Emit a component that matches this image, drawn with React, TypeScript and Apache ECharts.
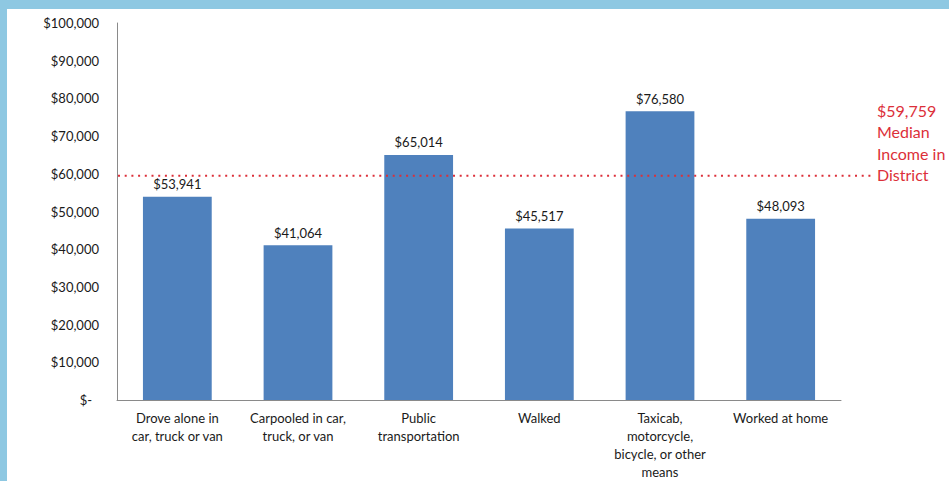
import React, { useEffect, useRef } from "react";
import * as echarts from "echarts";

const categories = [
  "Drove alone in\ncar, truck or van",
  "Carpooled in car,\ntruck, or van",
  "Public\ntransportation",
  "Walked",
  "Taxicab,\nmotorcycle,\nbicycle, or other\nmeans",
  "Worked at home",
];
const incomes = [53941, 41064, 65014, 45517, 76580, 48093];
const medianIncome = 59759;
const medianLabel = ["$59,759", "Median", "Income in", "District"];
const yTicks = { min: 0, max: 100000, interval: 10000 };

const FONT = "Lato, 'Open Sans', sans-serif";
const RED = "#DC2F39";
const fmt = (v: number) => "$" + v.toLocaleString("en-US");

export default function App() {
  const ref = useRef<HTMLDivElement>(null);
  useEffect(() => {
    if (!ref.current) return;
    const chart = echarts.init(ref.current, null, { renderer: "svg" });
    chart.setOption({
      animation: false,
      backgroundColor: "#ffffff",
      textStyle: { fontFamily: FONT },
      grid: { left: 110, top: 14, right: 108, bottom: 74 },
      xAxis: {
        type: "category",
        data: categories,
        axisLine: { lineStyle: { color: "#8a8a8a", width: 1 } },
        axisTick: { show: false },
        axisLabel: {
          color: "#1a1a1a",
          fontSize: 13,
          fontFamily: FONT,
          lineHeight: 18,
          margin: 9,
          interval: 0,
        },
      },
      yAxis: {
        type: "value",
        min: yTicks.min,
        max: yTicks.max,
        interval: yTicks.interval,
        axisLine: { show: true, lineStyle: { color: "#8a8a8a", width: 1 } },
        axisTick: { show: false },
        splitLine: { show: false },
        axisLabel: {
          color: "#1a1a1a",
          fontSize: 13,
          fontFamily: FONT,
          margin: 18,
          formatter: (v: number) => (v === 0 ? "{z|$-}" : fmt(v)),
          rich: { z: { fontSize: 13, fontFamily: FONT, color: "#1a1a1a", padding: [0, 7, 0, 0] } },
        },
      },
      series: [
        {
          type: "bar",
          data: incomes,
          barCategoryGap: "43%",
          itemStyle: { color: "#4F81BD" },
          label: {
            show: true,
            position: "top",
            distance: 6,
            color: "#1a1a1a",
            fontSize: 13,
            fontFamily: FONT,
            formatter: (p: any) => fmt(p.value),
          },
        },
      ],
    });
    const y = chart.convertToPixel({ yAxisIndex: 0 }, medianIncome) as number;
    chart.setOption({
      graphic: [
        {
          type: "line",
          silent: true,
          z: 10,
          shape: { x1: 111, y1: y + 1, x2: 864, y2: y + 1 },
          style: { stroke: RED, lineWidth: 2, lineDash: [2, 4.7] },
        },
        {
          type: "text",
          z: 10,
          x: 870,
          y: y + 11,
          style: {
            text: medianLabel.join("\n"),
            fill: RED,
            font: `16px ${FONT}`,
            lineHeight: 21.5,
            align: "left",
            verticalAlign: "bottom",
          },
        },
      ],
    });
    return () => chart.dispose();
  }, []);
  return (
    <div
      style={{
        position: "fixed",
        left: 0,
        top: 0,
        width: 949,
        height: 481,
        background: "#8EC8E2",
      }}
    >
      <div
        ref={ref}
        style={{ position: "absolute", left: 7, top: 9, width: 942, height: 472 }}
      />
    </div>
  );
}
